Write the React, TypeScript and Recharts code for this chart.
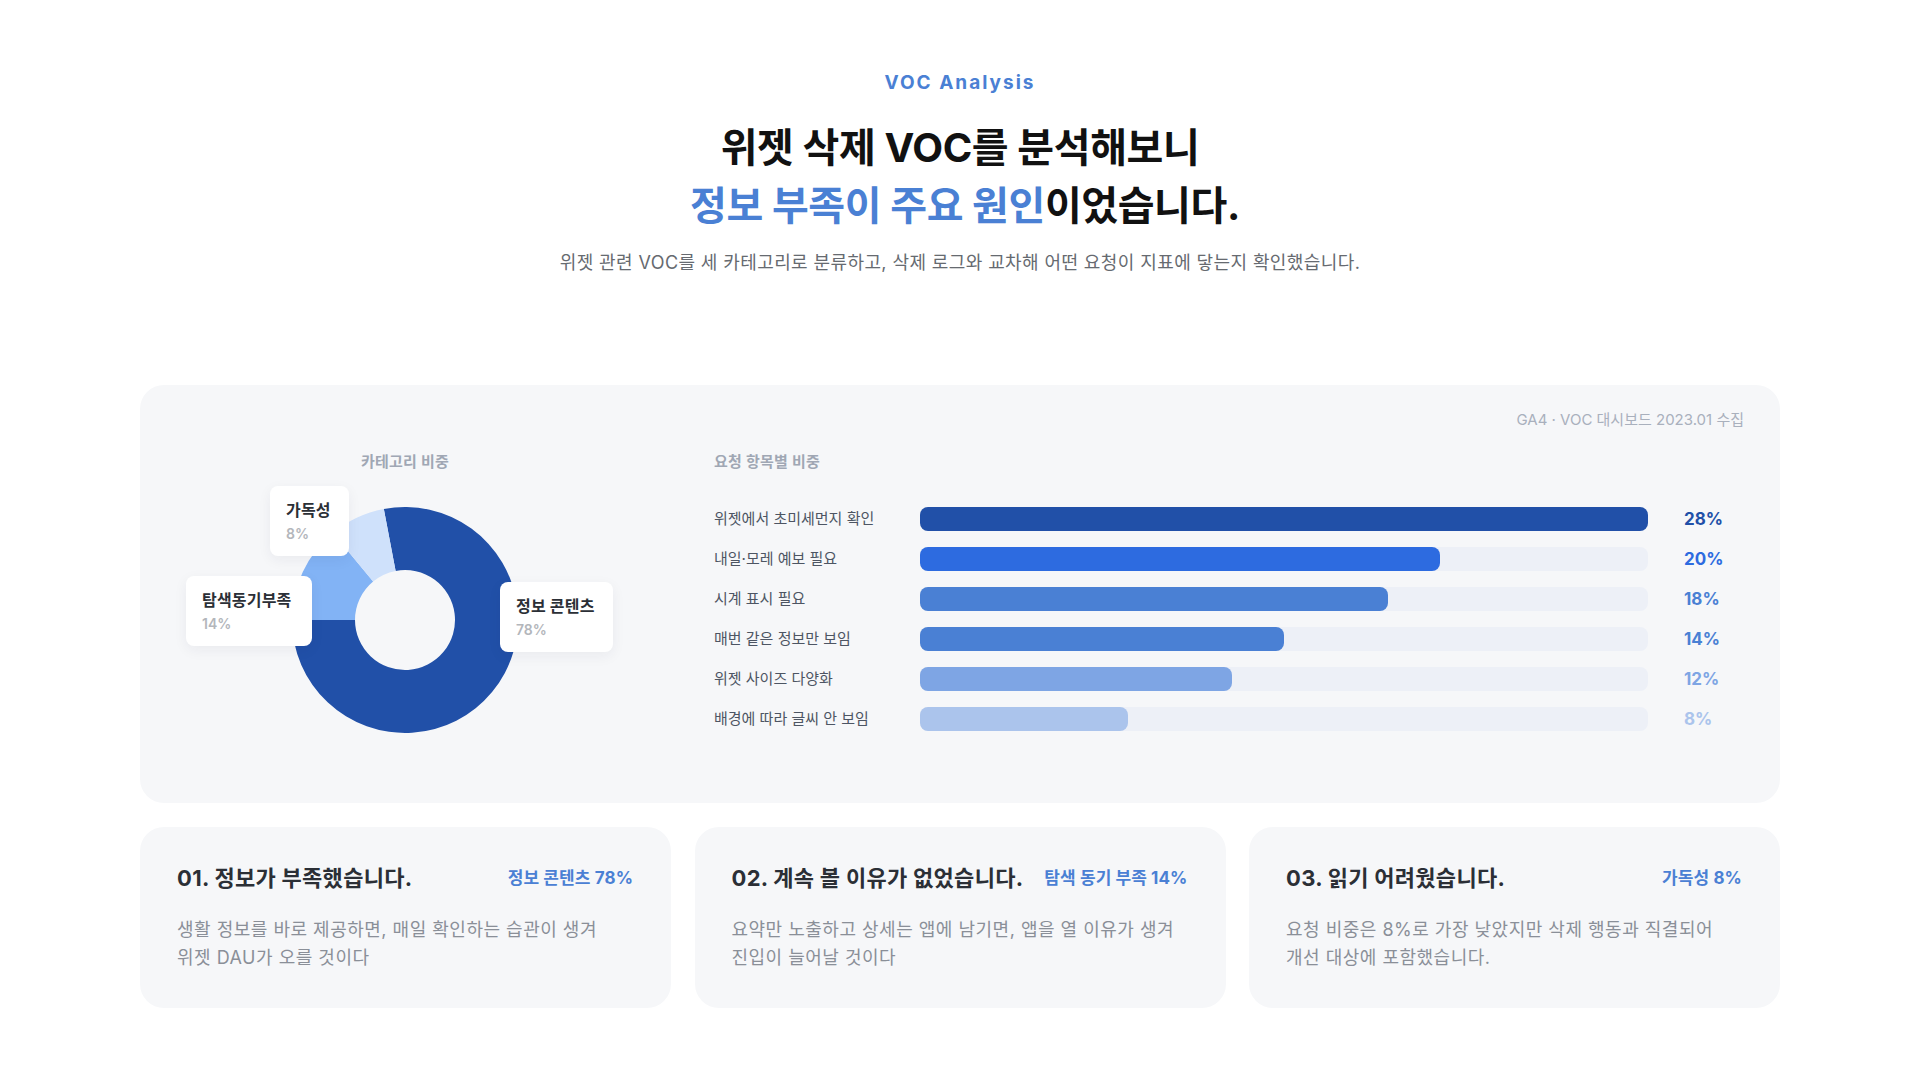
import React from 'react';
import { PieChart, Pie, Cell, BarChart, Bar, XAxis, YAxis } from 'recharts';

// ---------- data ----------
const categoryNames = ['정보 콘텐츠', '탐색동기부족', '가독성'];
const categoryValues = [78, 14, 8];
const categoryColors = ['#2150a8', '#82b3f5', '#cfe1fb'];

const requestNames = [
  '위젯에서 초미세먼지 확인',
  '내일·모레 예보 필요',
  '시계 표시 필요',
  '매번 같은 정보만 보임',
  '위젯 사이즈 다양화',
  '배경에 따라 글씨 안 보임',
];
const requestValues = [28, 20, 18, 14, 12, 8];
const requestColors = ['#2150a8', '#2d6be0', '#4a80d4', '#4a80d4', '#7ea5e4', '#abc4ec'];

const cardTitles = ['01. 정보가 부족했습니다.', '02. 계속 볼 이유가 없었습니다.', '03. 읽기 어려웠습니다.'];
const cardBadges = ['정보 콘텐츠 78%', '탐색 동기 부족 14%', '가독성 8%'];
const cardBodies = [
  ['생활 정보를 바로 제공하면, 매일 확인하는 습관이 생겨', '위젯 DAU가 오를 것이다'],
  ['요약만 노출하고 상세는 앱에 남기면, 앱을 열 이유가 생겨', '진입이 늘어날 것이다'],
  ['요청 비중은 8%로 가장 낮았지만 삭제 행동과 직결되어', '개선 대상에 포함했습니다.'],
];

const pieData = categoryNames.map((name, i) => ({ name, value: categoryValues[i] }));
const barData = requestNames.map((name, i) => ({ name, value: requestValues[i] }));

// ---------- styles ----------
const FONT = "Inter, 'Noto Sans CJK KR', 'Noto Sans', sans-serif";
const LEFT_AXIS_W = 206;
const BLUE = '#4a80d4';

// label box placement (page coords) for the donut annotations
const pieLabelBoxes = [
  { left: 500, top: 582, width: 113 },
  { left: 186, top: 576, width: 126 },
  { left: 270, top: 486, width: 79 },
];

const LeftTick = (props: any) => {
  const { x, y, payload } = props;
  return (
    <text
      x={x - LEFT_AXIS_W}
      y={y}
      dy={5}
      textAnchor="start"
      fill="#4d5563"
      fontSize={15}
      fontFamily={FONT}
    >
      {payload.value}
    </text>
  );
};

const RightTick = (props: any) => {
  const { x, y, payload, index } = props;
  const i = typeof index === 'number' ? index : requestNames.indexOf(payload.value);
  return (
    <text
      x={x}
      y={y}
      dy={6}
      textAnchor="start"
      fill={requestColors[i]}
      fontSize={17}
      fontWeight={700}
      fontFamily={FONT}
    >
      {requestValues[i]}%
    </text>
  );
};

export default function App() {
  return (
    <div
      style={{
        position: 'absolute',
        left: 0,
        top: 0,
        width: 1920,
        height: 1080,
        background: '#ffffff',
        fontFamily: FONT,
        overflow: 'hidden',
      }}
    >
      {/* Header */}
      <div
        style={{
          position: 'absolute',
          top: 71,
          left: 0,
          width: 1920,
          textAlign: 'center',
          fontSize: 19,
          lineHeight: '24px',
          fontWeight: 700,
          letterSpacing: 2,
          color: BLUE,
        }}
      >
        VOC Analysis
      </div>
      <div
        style={{
          position: 'absolute',
          top: 119,
          left: 0,
          width: 1920,
          textAlign: 'center',
          fontSize: 40,
          lineHeight: '58px',
          fontWeight: 700,
          letterSpacing: -0.4,
          color: '#111111',
        }}
      >
        <div>위젯 삭제 VOC를 분석해보니</div>
        <div style={{ paddingLeft: 10 }}>
          <span style={{ color: BLUE }}>정보 부족이 주요 원인</span>이었습니다.
        </div>
      </div>
      <div
        style={{
          position: 'absolute',
          top: 250,
          left: 0,
          width: 1920,
          textAlign: 'center',
          fontSize: 18,
          lineHeight: '26px',
          letterSpacing: 0.4,
          color: '#666a70',
        }}
      >
        위젯 관련 VOC를 세 카테고리로 분류하고, 삭제 로그와 교차해 어떤 요청이 지표에 닿는지 확인했습니다.
      </div>

      {/* Panel */}
      <div
        style={{
          position: 'absolute',
          left: 140,
          top: 385,
          width: 1640,
          height: 418,
          borderRadius: 24,
          background: '#f6f7f9',
        }}
      />
      <div
        style={{
          position: 'absolute',
          right: 1920 - 1744,
          top: 409,
          fontSize: 15,
          lineHeight: '22px',
          letterSpacing: 0,
          color: '#a9b0bd',
        }}
      >
        GA4 · VOC 대시보드 2023.01 수집
      </div>
      <div
        style={{
          position: 'absolute',
          left: 305,
          width: 200,
          textAlign: 'center',
          top: 451,
          fontSize: 15,
          lineHeight: '22px',
          fontWeight: 600,
          letterSpacing: 0.2,
          color: '#a0a7b4',
        }}
      >
        카테고리 비중
      </div>
      <div
        style={{
          position: 'absolute',
          left: 714,
          top: 451,
          fontSize: 15,
          lineHeight: '22px',
          fontWeight: 600,
          letterSpacing: 0.2,
          color: '#a0a7b4',
        }}
      >
        요청 항목별 비중
      </div>

      {/* Donut */}
      <div style={{ position: 'absolute', left: 255, top: 470 }}>
        <PieChart width={300} height={300}>
          <Pie
            data={pieData}
            dataKey="value"
            nameKey="name"
            cx="50%"
            cy="50%"
            innerRadius={50}
            outerRadius={113}
            startAngle={100.8}
            endAngle={-259.2}
            stroke="none"
            isAnimationActive={false}
          >
            {pieData.map((d, i) => (
              <Cell key={d.name} fill={categoryColors[i]} />
            ))}
          </Pie>
        </PieChart>
      </div>
      {pieData.map((d, i) => (
        <div
          key={d.name}
          style={{
            position: 'absolute',
            left: pieLabelBoxes[i].left,
            top: pieLabelBoxes[i].top,
            width: pieLabelBoxes[i].width,
            height: 70,
            boxSizing: 'border-box',
            padding: '13px 0 0 16px',
            background: '#ffffff',
            borderRadius: 8,
            boxShadow: '0 4px 14px rgba(30,40,60,0.06)',
          }}
        >
          <div
            style={{
              fontSize: 16,
              lineHeight: '22px',
              fontWeight: 700,
              letterSpacing: 0.2,
              color: '#2b2f36',
              whiteSpace: 'nowrap',
            }}
          >
            {d.name}
          </div>
          <div
            style={{
              marginTop: 4,
              fontSize: 14,
              lineHeight: '18px',
              fontWeight: 600,
              color: '#b3b6bb',
            }}
          >
            {d.value}%
          </div>
        </div>
      ))}

      {/* Bars */}
      <div style={{ position: 'absolute', left: 714, top: 499 }}>
        <BarChart
          width={1030}
          height={240}
          data={barData}
          layout="vertical"
          margin={{ top: 0, right: 0, bottom: 0, left: 0 }}
          barSize={24}
        >
          <XAxis type="number" domain={[0, 28]} hide />
          <YAxis
            yAxisId="left"
            type="category"
            dataKey="name"
            width={LEFT_AXIS_W}
            axisLine={false}
            tickLine={false}
            tickSize={0}
            tickMargin={0}
            tick={<LeftTick />}
            interval={0}
          />
          <YAxis
            yAxisId="right"
            orientation="right"
            type="category"
            dataKey="name"
            width={96}
            axisLine={false}
            tickLine={false}
            tickSize={0}
            tickMargin={36}
            tick={<RightTick />}
            interval={0}
          />
          <Bar
            yAxisId="left"
            dataKey="value"
            radius={8}
            background={{ fill: '#edf0f7', radius: 8 }}
            isAnimationActive={false}
          >
            {barData.map((d, i) => (
              <Cell key={d.name} fill={requestColors[i]} />
            ))}
          </Bar>
        </BarChart>
      </div>

      {/* Cards */}
      {cardTitles.map((t, i) => (
        <div
          key={t}
          style={{
            position: 'absolute',
            left: 140 + i * 554.5,
            top: 827,
            width: 531,
            height: 181,
            boxSizing: 'border-box',
            padding: '34px 38px 0 37px',
            borderRadius: 24,
            background: '#f6f7f9',
          }}
        >
          <div
            style={{
              display: 'flex',
              justifyContent: 'space-between',
              alignItems: 'center',
              height: 30,
            }}
          >
            <span
              style={{
                fontSize: 22,
                fontWeight: 700,
                letterSpacing: 0.3,
                color: '#2b2f36',
              }}
            >
              {t}
            </span>
            <span
              style={{
                fontSize: 17,
                fontWeight: 700,
                letterSpacing: 0.1,
                color: BLUE,
              }}
            >
              {cardBadges[i]}
            </span>
          </div>
          <div
            style={{
              marginTop: 25,
              fontSize: 18,
              lineHeight: '28px',
              letterSpacing: 0.5,
              color: '#8a8f98',
            }}
          >
            {cardBodies[i].map((l) => (
              <div key={l}>{l}</div>
            ))}
          </div>
        </div>
      ))}
    </div>
  );
}
